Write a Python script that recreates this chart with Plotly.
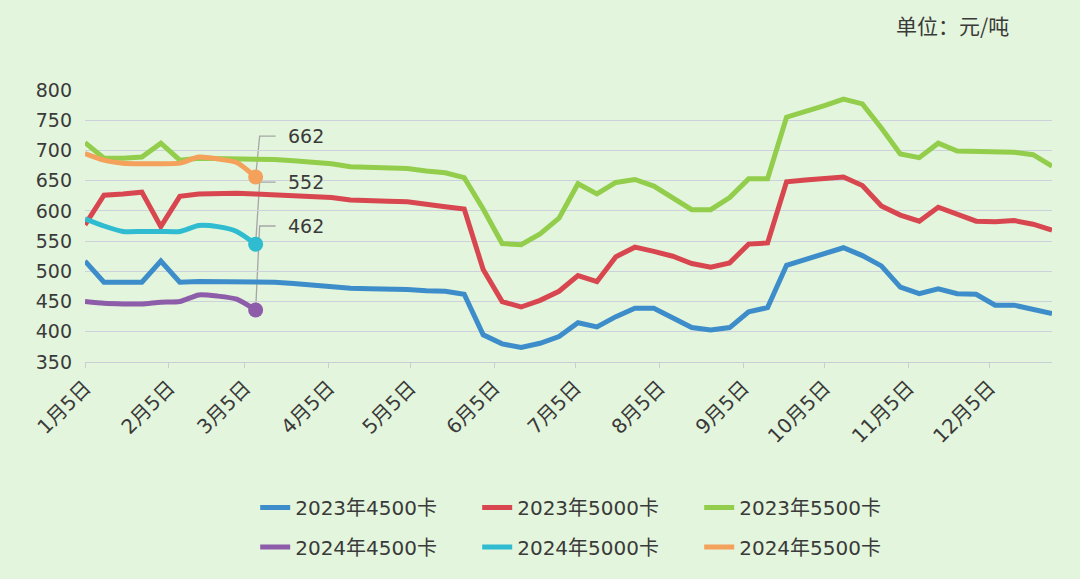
import plotly.graph_objects as go

# weekly sample dates (one calendar year, month/day shown only)
DATES = [
    "2023-01-05", "2023-01-12", "2023-01-19", "2023-01-26",
    "2023-02-02", "2023-02-09", "2023-02-16", "2023-02-23",
    "2023-03-02", "2023-03-09", "2023-03-16", "2023-03-23", "2023-03-30",
    "2023-04-06", "2023-04-13", "2023-04-20", "2023-04-27",
    "2023-05-04", "2023-05-11", "2023-05-18", "2023-05-25",
    "2023-06-01", "2023-06-08", "2023-06-15", "2023-06-22", "2023-06-29",
    "2023-07-06", "2023-07-13", "2023-07-20", "2023-07-27",
    "2023-08-03", "2023-08-10", "2023-08-17", "2023-08-24", "2023-08-31",
    "2023-09-07", "2023-09-14", "2023-09-21", "2023-09-28",
    "2023-10-05", "2023-10-12", "2023-10-19", "2023-10-26",
    "2023-11-02", "2023-11-09", "2023-11-16", "2023-11-23", "2023-11-30",
    "2023-12-07", "2023-12-14", "2023-12-21", "2023-12-28",
]

Y2023_4500 = [517, 482, 482, 482, 517, 482, 483, 483, 483, 483, 482, 480, 477,
              474, 472, 471, 471, 470, 468, 467, 462, 395, 380, 374, 381, 392,
              415, 408, 425, 439, 439, 422, 407, 403, 407, 433, 440, 510, 519,
              528, 539, 526, 509, 474, 463, 471, 463, 462, 444, 444, 438, 430]
Y2023_5000 = [577, 626, 628, 631, 574, 624, 628, 629, 629, 628, 627, 626, 624,
              622, 618, 616, 616, 615, 610, 607, 603, 503, 450, 441, 452, 467,
              493, 483, 524, 540, 533, 525, 513, 507, 514, 545, 547, 648, 651,
              653, 656, 642, 608, 593, 583, 606, 595, 583, 582, 584, 578, 568]
Y2023_5500 = [713, 687, 687, 689, 712, 684, 687, 687, 686, 685, 685, 683, 681,
              678, 673, 672, 671, 670, 666, 663, 655, 603, 546, 544, 562, 588,
              645, 628, 647, 652, 641, 622, 602, 602, 622, 653, 653, 755, 764,
              774, 785, 777, 737, 694, 688, 712, 699, 698, 698, 697, 693, 674]

Y2024_4500 = [450, 447, 446, 446, 449, 450, 461, 459, 454, 436]
Y2024_5000 = [587, 575, 566, 566, 566, 566, 576, 574, 566, 545]
Y2024_5500 = [695, 684, 679, 678, 678, 679, 689, 686, 680, 656]

LAST_LABELS_2024 = {"4500": "462", "5000": "552", "5500": "662"}

TICK_VALS = ["2023-01-05", "2023-02-05", "2023-03-05", "2023-04-05",
             "2023-05-05", "2023-06-05", "2023-07-05", "2023-08-05",
             "2023-09-05", "2023-10-05", "2023-11-05", "2023-12-05"]
TICK_TEXT = ["1月5日", "2月5日", "3月5日", "4月5日", "5月5日", "6月5日",
             "7月5日", "8月5日", "9月5日", "10月5日", "11月5日", "12月5日"]

FONT = "DejaVu Sans, Noto Sans CJK SC"
FONT_CJK = "Noto Sans CJK SC"
TXT = "#3a3a3a"
BG = "#E3F5DC"

C_BLUE = "#3C8DC9"
C_RED = "#D8474F"
C_GREEN = "#93CD4C"
C_PURPLE = "#8D5DAA"
C_CYAN = "#2FBCD1"
C_ORANGE = "#F4A15C"

fig = go.Figure()

series_2023 = [
    ("2023年4500卡", Y2023_4500, C_BLUE),
    ("2023年5000卡", Y2023_5000, C_RED),
    ("2023年5500卡", Y2023_5500, C_GREEN),
]
for name, ys, col in series_2023:
    fig.add_trace(go.Scatter(x=DATES[:len(ys)], y=ys, name=name, mode="lines",
                             line=dict(color=col, width=5), legend="legend"))

series_2024 = [
    ("2024年4500卡", Y2024_4500, C_PURPLE, "4500"),
    ("2024年5000卡", Y2024_5000, C_CYAN, "5000"),
    ("2024年5500卡", Y2024_5500, C_ORANGE, "5500"),
]
for name, ys, col, key in series_2024:
    xs = DATES[:len(ys)]
    fig.add_trace(go.Scatter(x=xs, y=ys, name=name, mode="lines",
                             line=dict(color=col, width=5, shape="spline", smoothing=0.6),
                             legend="legend2"))
    # end marker
    fig.add_trace(go.Scatter(x=[xs[-1]], y=[ys[-1]], mode="markers", showlegend=False,
                             marker=dict(color=col, size=15), hoverinfo="skip"))

# leader lines + labels for latest 2024 values (pixel offsets)
leader_up = {"5500": 41, "5000": 62, "4500": 84}
for name, ys, col, key in series_2024:
    xs = DATES[:len(ys)]
    up = leader_up[key]
    fig.add_shape(type="path", xref="x", yref="y", xsizemode="pixel", ysizemode="pixel",
                  xanchor=xs[-1], yanchor=ys[-1],
                  path=f"M 0 0 L 4 {up} L 20 {up}",
                  line=dict(color="#A6A6A6", width=1.3), layer="below")
    fig.add_annotation(x=xs[-1], y=ys[-1], text=LAST_LABELS_2024[key], showarrow=False,
                       xanchor="left", yanchor="middle", xshift=30, yshift=up,
                       font=dict(family=FONT, size=19, color=TXT))

fig.add_annotation(xref="paper", yref="paper", x=0.897, y=1.24, text="单位：元/吨",
                   showarrow=False, xanchor="center", yanchor="middle",
                   font=dict(family=FONT_CJK, size=21, color=TXT))

fig.update_layout(
    width=1080, height=579,
    margin=dict(l=85, r=28, t=90, b=217),
    paper_bgcolor=BG, plot_bgcolor=BG,
    font=dict(family=FONT, size=18, color=TXT),
    showlegend=True,
    legend=dict(orientation="h", x=0.176, y=-0.535, xanchor="left", yanchor="middle",
                entrywidth=177, entrywidthmode="pixels", bgcolor="rgba(0,0,0,0)",
                font=dict(family=FONT, size=20, color=TXT)),
    legend2=dict(orientation="h", x=0.176, y=-0.68, xanchor="left", yanchor="middle",
                 entrywidth=177, entrywidthmode="pixels", bgcolor="rgba(0,0,0,0)",
                 font=dict(family=FONT, size=20, color=TXT)),
)

fig.update_xaxes(type="date", range=["2023-01-05", "2023-12-28"],
                 tickvals=TICK_VALS, ticktext=TICK_TEXT, tickangle=-45,
                 showgrid=False, showline=True, linecolor="#C9CDD6", linewidth=1,
                 ticks="outside", ticklen=5, tickcolor="#C9CDD6",
                 tickfont=dict(family=FONT, size=20, color=TXT))
fig.update_yaxes(range=[350, 800], dtick=50, tick0=350, showgrid=True,
                 gridcolor="#CDD1DB", gridwidth=1, zeroline=False,
                 ticks="", ticklabelstandoff=12,
                 tickfont=dict(family=FONT, size=19, color=TXT))

fig.write_html("out.html", config={"displayModeBar": False},
               post_script="document.body.style.margin='0px';"
                           "document.body.style.background='" + BG + "';")
